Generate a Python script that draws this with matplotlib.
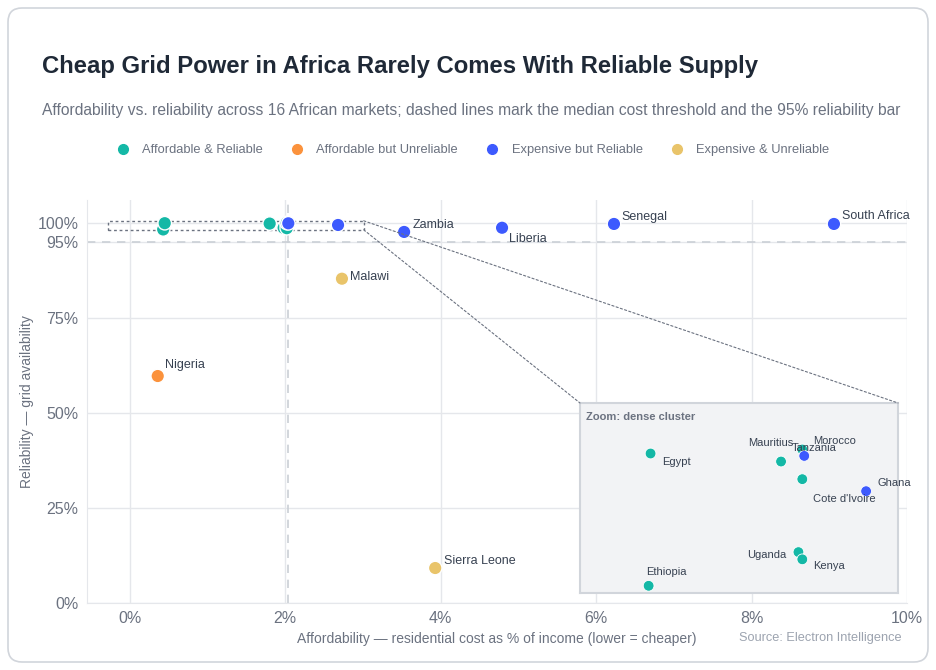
import numpy as np
import matplotlib
matplotlib.use('Agg')
import matplotlib.pyplot as plt
from matplotlib.patches import Rectangle, FancyBboxPatch, ConnectionPatch
from matplotlib.lines import Line2D
from matplotlib.ticker import FuncFormatter

plt.rcParams['font.family'] = ['Liberation Sans', 'DejaVu Sans']

# Dữ liệu: 16 thị trường
markets = ['Nigeria', 'Ethiopia', 'Egypt', 'Mauritius', 'Uganda', "Cote d'Ivoire",
           'Kenya', 'Morocco', 'Tanzania', 'Ghana', 'Malawi', 'Zambia',
           'Sierra Leone', 'Liberia', 'Senegal', 'South Africa']
cost_pct = [0.36, 0.43, 0.45, 1.80, 1.98, 2.02, 2.02, 2.02, 2.04, 2.68,
            2.73, 3.53, 3.93, 4.79, 6.23, 9.06]
reliability = [59.7, 98.25, 99.9, 99.8, 98.67, 99.58, 98.58, 99.95, 99.87, 99.43,
               85.3, 97.6, 9.2, 98.7, 99.7, 99.7]
quadrant = ['Affordable but Unreliable', 'Affordable & Reliable', 'Affordable & Reliable',
            'Affordable & Reliable', 'Affordable & Reliable', 'Affordable & Reliable',
            'Affordable & Reliable', 'Affordable & Reliable', 'Expensive but Reliable',
            'Expensive but Reliable', 'Expensive & Unreliable', 'Expensive but Reliable',
            'Expensive & Unreliable', 'Expensive but Reliable', 'Expensive but Reliable',
            'Expensive but Reliable']
groups = ['Affordable & Reliable', 'Affordable but Unreliable',
          'Expensive but Reliable', 'Expensive & Unreliable']
reliability_bar = 95
zoom_x = (-0.28, 3.01)
zoom_y = (98.16, 100.53)
x_ticks = [0, 2, 4, 6, 8, 10]
y_ticks = [0, 25, 50, 75, 95, 100]

colors = {'Affordable & Reliable': '#14b8a6', 'Affordable but Unreliable': '#fb923c',
          'Expensive but Reliable': '#3d5afe', 'Expensive & Unreliable': '#e9c46a'}

# vị trí nhãn (offset points)
main_offsets = {'Zambia': (6, 5), 'Liberia': (5, -8), 'Senegal': (5, 5),
                'South Africa': (6, 6), 'Malawi': (6, 1), 'Nigeria': (5, 8),
                'Sierra Leone': (6, 5)}
zoom_offsets = {'Egypt': (8, -6, 'left'), 'Mauritius': (9, 13, 'right'),
                'Morocco': (8, 6, 'left'), 'Tanzania': (-9, 6, 'left'),
                "Cote d'Ivoire": (8, -14, 'left'), 'Ghana': (8, 6, 'left'),
                'Uganda': (-9, -2, 'right'), 'Kenya': (8, -5, 'left'),
                'Ethiopia': (-2, 10, 'left')}

median_cost = np.median(cost_pct)
pt_colors = [colors[q] for q in quadrant]
x = np.array(cost_pct)
y = np.array(reliability)
in_zoom = (x >= zoom_x[0]) & (x <= zoom_x[1]) & (y >= zoom_y[0]) & (y <= zoom_y[1])

fig = plt.figure(figsize=(9.36, 6.7), dpi=100)

# khung thẻ nền
bg = fig.add_axes([0, 0, 1, 1], zorder=-1)
bg.set_xlim(0, 936)
bg.set_ylim(0, 670)
bg.axis('off')
bg.add_patch(FancyBboxPatch((8, 8), 920, 654, boxstyle='round,pad=0,rounding_size=14',
                            fc='white', ec='#d1d5db', lw=1.2))

ax = fig.add_axes([87 / 936, 1 - 603 / 670, 820 / 936, 403 / 670])
ax.set_facecolor('none')
ax.set_xlim(-0.55, 10)
ax.set_ylim(0, 106)
ax.set_xticks(x_ticks)
ax.set_yticks(y_ticks)
ax.xaxis.set_major_formatter(FuncFormatter(lambda v, p: f'{v:.0f}%'))
ax.yaxis.set_major_formatter(FuncFormatter(lambda v, p: f'{v:.0f}%'))
ax.grid(True, color='#e5e7eb', lw=1)
ax.set_axisbelow(True)
ax.tick_params(length=0, labelsize=11.5, colors='#6b7280', pad=6)
for s in ['top', 'right']:
    ax.spines[s].set_visible(False)
for s in ['left', 'bottom']:
    ax.spines[s].set_color('#e5e7eb')

ax.axvline(median_cost, color='#cbd0d6', lw=1.2, ls=(0, (5, 4)), zorder=1)
ax.axhline(reliability_bar, color='#cbd0d6', lw=1.2, ls=(0, (5, 4)), zorder=1)

ax.scatter(x, y, s=95, c=pt_colors, edgecolors='white', linewidths=1, zorder=3)
for i, name in enumerate(markets):
    if in_zoom[i]:
        continue
    dx, dy = main_offsets[name]
    ax.annotate(name, (x[i], y[i]), xytext=(dx, dy), textcoords='offset points',
                ha='left', va='center', fontsize=9, color='#374151', zorder=4)

ax.set_xlabel('Affordability — residential cost as % of income (lower = cheaper)',
              fontsize=10, color='#6b7280', labelpad=4)
ax.set_ylabel('Reliability — grid availability', fontsize=10, color='#6b7280', labelpad=3)

ax.add_patch(Rectangle((zoom_x[0], zoom_y[0]), zoom_x[1] - zoom_x[0], zoom_y[1] - zoom_y[0],
                       fill=False, ec='#6b7280', lw=1, ls=(0, (2, 2)), zorder=2))

# ô phóng to
axz = fig.add_axes([580 / 936, 1 - 593 / 670, 318 / 936, 190 / 670])
axz.set_facecolor('#f2f3f5')
axz.set_xlim(*zoom_x)
axz.set_ylim(*zoom_y)
axz.set_xticks([])
axz.set_yticks([])
for s in axz.spines.values():
    s.set_color('#d1d5db')
    s.set_linewidth(1.5)
axz.scatter(x[in_zoom], y[in_zoom], s=60, c=np.array(pt_colors)[in_zoom],
            edgecolors='white', linewidths=0.6, zorder=3)
for i, name in enumerate(markets):
    if not in_zoom[i]:
        continue
    dx, dy, ha = zoom_offsets[name]
    axz.annotate(name, (x[i], y[i]), xytext=(dx, dy), textcoords='offset points',
                 ha=ha, va='center', fontsize=8, color='#374151', zorder=4)
axz.text(0.018, 0.955, 'Zoom: dense cluster', transform=axz.transAxes, ha='left', va='top',
         fontsize=8, fontweight='bold', color='#6b7280')

for xy_main, xy_in in [((zoom_x[1], zoom_y[1]), (1, 1)), ((zoom_x[1], zoom_y[0]), (0, 1))]:
    con = ConnectionPatch(xyA=xy_main, coordsA=ax.transData, xyB=xy_in, coordsB=axz.transAxes,
                          color='#6b7280', lw=0.8, ls=(0, (2, 2)))
    fig.add_artist(con)

# tiêu đề và chú thích
fig.text(42 / 936, 1 - 66 / 670, 'Cheap Grid Power in Africa Rarely Comes With Reliable Supply',
         fontsize=17.2, fontweight='bold', color='#1f2937', ha='left', va='center')
fig.text(42 / 936, 1 - 110 / 670,
         'Affordability vs. reliability across 16 African markets; dashed lines mark the median '
         'cost threshold and the 95% reliability bar',
         fontsize=11.25, color='#6b7280', ha='left', va='center')
handles = [Line2D([], [], marker='o', ls='none', markersize=7, color=colors[g]) for g in groups]
fig.legend(handles, groups, loc='center', bbox_to_anchor=(0.505, 1 - 150 / 670), ncol=4,
           frameon=False, fontsize=9.3, labelcolor='#6b7280', handlelength=1,
           handletextpad=1.0, columnspacing=2.15)
fig.text(902 / 936, 1 - 638 / 670, 'Source: Electron Intelligence', fontsize=9.2,
         color='#9ca3af', ha='right', va='center')

fig.savefig('out.png', dpi=100)
